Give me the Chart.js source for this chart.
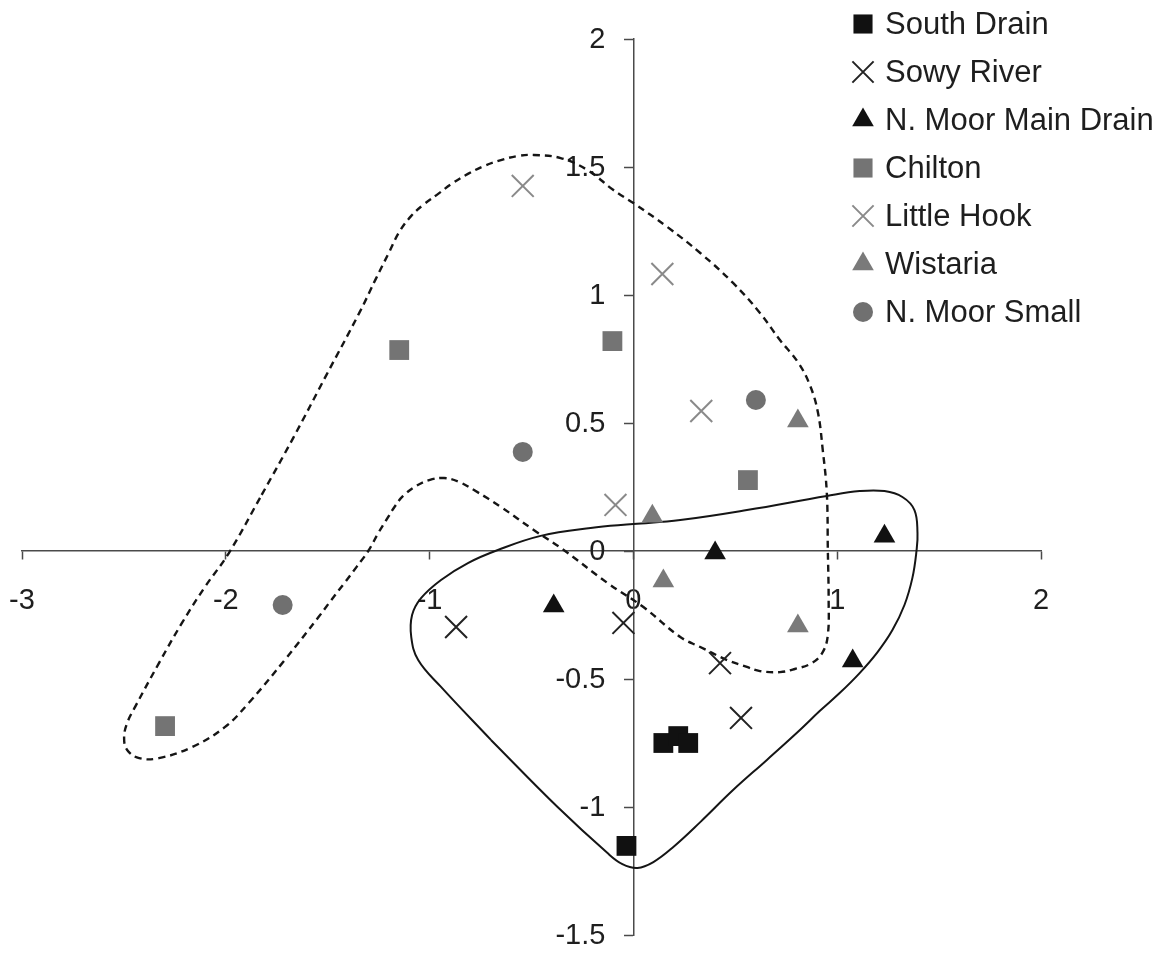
<!DOCTYPE html>
<html>
<head>
<meta charset="utf-8">
<script src="https://cdn.jsdelivr.net/npm/chart.js@4/dist/chart.umd.min.js"></script>
<style>
  html, body { margin: 0; padding: 0; background: #ffffff; }
  #wrap { width: 1172px; height: 954px; }
</style>
</head>
<body>
<div id="wrap"><canvas id="c" width="1172" height="954"></canvas></div>
<script>
// ---------- data (x, y) ----------
const seriesNames = ['South Drain', 'Sowy River', 'N. Moor Main Drain', 'Chilton', 'Little Hook', 'Wistaria', 'N. Moor Small'];

const southDrain     = [[-0.034, -1.152], [0.147, -0.750], [0.220, -0.723], [0.269, -0.750]];
const sowyRiver      = [[-0.870, -0.297], [-0.049, -0.281], [0.425, -0.438], [0.528, -0.652]];
const nMoorMainDrain = [[-0.391, -0.215], [0.401, -0.008], [1.232, 0.058], [1.076, -0.430]];
const chilton        = [[-1.149, 0.785], [-0.103, 0.820], [0.562, 0.277], [-2.298, -0.684]];
const littleHook     = [[-0.543, 1.426], [0.142, 1.082], [0.333, 0.547], [-0.088, 0.180]];
const wistaria       = [[0.093, 0.136], [0.147, -0.117], [0.807, 0.508], [0.807, -0.293]];
const nMoorSmall     = [[-1.721, -0.211], [-0.543, 0.387], [0.601, 0.590]];

// hand-drawn group outlines (data units)
const solidOutline = [
  [-0.699, -0.738], [-0.372, -1.000], [-0.127, -1.180], [-0.054, -1.223], [0.020, -1.238],
  [0.098, -1.215], [0.196, -1.156], [0.328, -1.059], [0.489, -0.934], [0.655, -0.816],
  [0.817, -0.699], [0.914, -0.625], [1.012, -0.555], [1.110, -0.477], [1.198, -0.395],
  [1.271, -0.309], [1.330, -0.211], [1.369, -0.105], [1.389, 0.000], [1.394, 0.070],
  [1.379, 0.160], [1.320, 0.211], [1.232, 0.234], [1.110, 0.234], [0.949, 0.215],
  [0.557, 0.160], [0.230, 0.121], [0.000, 0.105], [-0.210, 0.090], [-0.455, 0.059],
  [-0.665, 0.004], [-0.812, -0.047], [-0.944, -0.113], [-1.042, -0.184], [-1.086, -0.250],
  [-1.090, -0.336], [-1.056, -0.426], [-0.944, -0.531], [-0.699, -0.738]
];
const dashedOutline = [
  [-1.824, 0.219], [-1.667, 0.445], [-1.506, 0.688], [-1.345, 0.930], [-1.262, 1.066],
  [-1.198, 1.168], [-1.149, 1.246], [-1.090, 1.309], [-1.027, 1.355], [-0.958, 1.395],
  [-0.885, 1.438], [-0.812, 1.473], [-0.733, 1.504], [-0.650, 1.527], [-0.567, 1.543],
  [-0.489, 1.547], [-0.357, 1.535], [-0.225, 1.488], [-0.098, 1.410], [0.000, 1.359],
  [0.166, 1.266], [0.328, 1.164], [0.489, 1.047], [0.621, 0.930], [0.719, 0.824],
  [0.807, 0.738], [0.866, 0.648], [0.905, 0.543], [0.929, 0.395], [0.949, 0.227],
  [0.954, 0.004], [0.958, -0.191], [0.954, -0.328], [0.929, -0.395], [0.875, -0.438],
  [0.792, -0.461], [0.719, -0.473], [0.621, -0.469], [0.557, -0.453], [0.460, -0.426],
  [0.328, -0.375], [0.230, -0.336], [0.049, -0.219], [-0.127, -0.125], [-0.342, 0.004],
  [-0.489, 0.082], [-0.650, 0.172], [-0.782, 0.238], [-0.856, 0.270], [-0.929, 0.285],
  [-1.002, 0.277], [-1.066, 0.254], [-1.130, 0.215], [-1.169, 0.176], [-1.203, 0.133],
  [-1.252, 0.070], [-1.301, 0.000], [-1.359, -0.063], [-1.418, -0.125], [-1.482, -0.191],
  [-1.545, -0.258], [-1.711, -0.426], [-1.888, -0.594], [-2.005, -0.688], [-2.166, -0.766],
  [-2.328, -0.809], [-2.425, -0.809], [-2.484, -0.777], [-2.499, -0.730], [-2.484, -0.672],
  [-2.445, -0.609], [-2.328, -0.438], [-2.215, -0.281], [-2.103, -0.141], [-1.985, -0.008],
  [-1.824, 0.219]
];

const xTicks = [-3, -2, -1, 0, 1, 2];
const yTicks = [-1.5, -1, -0.5, 0, 0.5, 1, 1.5, 2];

// ---------- chart ----------
const toPts = arr => arr.map(p => ({ x: p[0], y: p[1] }));
const FONT = '"Liberation Sans", Arial, sans-serif';

function pointSet(label, arr, style, radius, fill, stroke, bw) {
  return {
    label, data: toPts(arr), showLine: false, order: 1,
    pointStyle: style, pointRadius: radius, pointHoverRadius: radius,
    backgroundColor: fill, borderColor: stroke, borderWidth: bw,
    pointBackgroundColor: fill, pointBorderColor: stroke, pointBorderWidth: bw
  };
}
function outlineSet(arr, dash) {
  return {
    label: '', data: toPts(arr), showLine: true, order: 10,
    pointRadius: 0, pointHoverRadius: 0, pointHitRadius: 0,
    borderColor: '#151515', borderWidth: dash ? 2.4 : 2, borderDash: dash || [],
    backgroundColor: 'transparent', fill: false, tension: 0.4
  };
}

const datasets = [
  pointSet(seriesNames[0], southDrain, 'rect', 14, '#111111', '#111111', 0),
  pointSet(seriesNames[1], sowyRiver, 'crossRot', 15.5, '#222222', '#222222', 2),
  pointSet(seriesNames[2], nMoorMainDrain, 'triangle', 12.5, '#111111', '#111111', 0),
  pointSet(seriesNames[3], chilton, 'rect', 14, '#747474', '#747474', 0),
  pointSet(seriesNames[4], littleHook, 'crossRot', 15.5, '#8a8a8a', '#8a8a8a', 2),
  pointSet(seriesNames[5], wistaria, 'triangle', 12.5, '#7a7a7a', '#7a7a7a', 0),
  pointSet(seriesNames[6], nMoorSmall, 'circle', 10, '#707070', '#707070', 0),
  outlineSet(solidOutline, null),
  outlineSet(dashedOutline, [7, 5])
];

// move tick labels away from the crossing axes
function shiftLabels(dx, dy) {
  return scale => {
    if (scale.__shifted) return;
    scale.__shifted = true;
    const orig = scale._computeLabelItems.bind(scale);
    scale._computeLabelItems = ca => {
      const items = orig(ca);
      items.forEach(it => { const t = it.options.translation; t[0] += dx; t[1] += dy; });
      return items;
    };
  };
}

const legendSizes = [13.5, 15, 12.5, 13.5, 15, 12.5, 10];
const sideLegend = {
  id: 'sideLegend',
  afterDraw(chart) {
    const ctx = chart.ctx;
    ctx.save();
    ctx.font = '31px ' + FONT;
    ctx.textBaseline = 'middle';
    ctx.textAlign = 'left';
    seriesNames.forEach((name, i) => {
      const ds = chart.data.datasets[i];
      const y = 24 + i * 48;
      ctx.fillStyle = ds.backgroundColor;
      ctx.strokeStyle = ds.borderColor;
      ctx.lineWidth = ds.borderWidth;
      Chart.helpers.drawPoint(ctx, { pointStyle: ds.pointStyle, radius: legendSizes[i], rotation: 0, borderWidth: ds.borderWidth }, 863, y);
      ctx.fillStyle = '#1e1e1e';
      ctx.fillText(name, 885, y + 1);
    });
    ctx.restore();
  }
};

new Chart(document.getElementById('c'), {
  type: 'scatter',
  data: { datasets },
  options: {
    responsive: false,
    animation: false,
    devicePixelRatio: 1,
    layout: { padding: { left: 22, right: 131, top: 39, bottom: 19 } },
    plugins: { legend: { display: false }, tooltip: { enabled: false } },
    events: [],
    scales: {
      x: {
        type: 'linear', min: -3, max: 2, position: { y: 0 },
        afterBuildTicks: s => { s.ticks = xTicks.map(v => ({ value: v })); },
        afterUpdate: shiftLabels(0, 25),
        ticks: { font: { size: 29, family: FONT }, color: '#1e1e1e', padding: 0, maxRotation: 0, callback: v => String(v) },
        grid: { drawOnChartArea: false, drawTicks: true, tickLength: 8, tickColor: '#4a4a4a', tickWidth: 1.5 },
        border: { display: true, color: '#4a4a4a', width: 1.5 }
      },
      y: {
        type: 'linear', min: -1.5, max: 2, position: { x: 0 },
        afterBuildTicks: s => { s.ticks = yTicks.map(v => ({ value: v })); },
        afterUpdate: shiftLabels(-28, 1),
        ticks: { font: { size: 29, family: FONT }, color: '#1e1e1e', padding: 0, callback: v => String(v) },
        grid: { drawOnChartArea: false, drawTicks: true, tickLength: 9, tickColor: '#4a4a4a', tickWidth: 1.5 },
        border: { display: true, color: '#4a4a4a', width: 1.5 }
      }
    }
  },
  plugins: [sideLegend]
});
</script>
</body>
</html>
